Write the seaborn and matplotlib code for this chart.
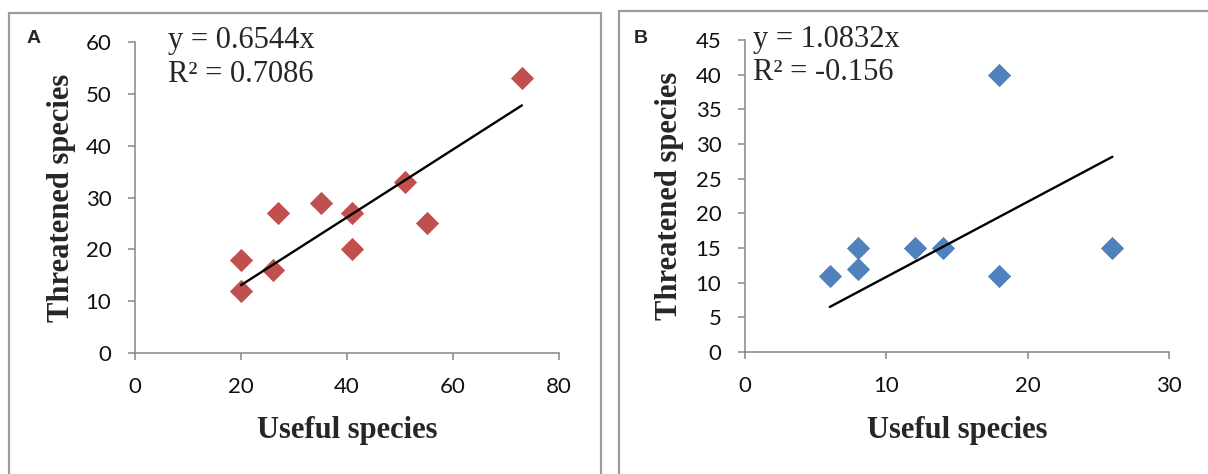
import matplotlib
matplotlib.use("Agg")
import matplotlib.pyplot as plt
from matplotlib.patches import Rectangle
import numpy as np
import pandas as pd
import seaborn as sns

# ---- data ----
useful_a = [20, 20, 26, 27, 35, 41, 41, 51, 55, 73]
threat_a = [12, 18, 16, 27, 29, 27, 20, 33, 25, 53]
slope_a = 0.6544
eq_a = ["y = 0.6544x", "R² = 0.7086"]

useful_b = [6, 8, 8, 12, 14, 18, 18, 26]
threat_b = [11, 15, 12, 15, 15, 40, 11, 15]
slope_b = 1.0832
eq_b = ["y = 1.0832x", "R² = -0.156"]

xticks_a = [0, 20, 40, 60, 80]
yticks_a = [0, 10, 20, 30, 40, 50, 60]
xticks_b = [0, 10, 20, 30]
yticks_b = [0, 5, 10, 15, 20, 25, 30, 35, 40, 45]

panel_letters = ["A", "B"]
xlabel = "Useful species"
ylabel = "Threatened species"

RED = "#C0504D"
BLUE = "#4F81BD"
AXIS_GRAY = "#868686"
FRAME_GRAY = "#9c9c9c"

sns.set_theme(style="white")
plt.rcParams["font.family"] = ["Lato", "DejaVu Sans"]

W, H = 1208, 474
fig = plt.figure(figsize=(W / 100, H / 100), dpi=100)
fig.patch.set_facecolor("white")


def fx(px):
    return px / W


def fy(py):
    return 1 - py / H


# panel frames
for (x0, x1, y0) in [(9, 601, 13), (619, 1212, 11)]:
    fig.add_artist(Rectangle((fx(x0), fy(H + 10)), fx(x1 - x0), (H + 10 - y0) / H,
                             transform=fig.transFigure, fill=False,
                             ec=FRAME_GRAY, lw=1.6, zorder=0))

# axes placement (pixel boxes)
boxes = [(135, 559, 42, 353), (745, 1169, 40, 352)]
datasets = [
    (useful_a, threat_a, slope_a, eq_a, RED, xticks_a, yticks_a),
    (useful_b, threat_b, slope_b, eq_b, BLUE, xticks_b, yticks_b),
]
eq_pos = [(168, 48, 82), (753, 47, 80)]
letter_pos = [(27, 43), (634, 43)]
ylabel_x = [62, 669]

for i, ((l, r, t, b), (xs, ys, slope, eq, col, xt, yt)) in enumerate(zip(boxes, datasets)):
    ax = fig.add_axes([fx(l), fy(b), fx(r - l), (b - t) / H])
    df = pd.DataFrame({"x": xs, "y": ys})
    sns.scatterplot(data=df, x="x", y="y", ax=ax, marker="D", s=140,
                    color=col, linewidth=0, zorder=3, legend=False)
    xfit = np.array([min(xs), max(xs)], dtype=float)
    sns.lineplot(x=xfit, y=slope * xfit, ax=ax, color="black", lw=1.7,
                 zorder=4, sort=False, estimator=None)

    ax.set_xlim(xt[0], xt[-1])
    ax.set_ylim(yt[0], yt[-1])
    ax.set_xticks(xt)
    ax.set_yticks(yt)
    ax.set_xticklabels([str(v) for v in xt])
    ax.set_yticklabels([str(v) for v in yt])
    for side in ["top", "right"]:
        ax.spines[side].set_visible(False)
    for side in ["left", "bottom"]:
        ax.spines[side].set_color(AXIS_GRAY)
        ax.spines[side].set_linewidth(1.1)
    ax.tick_params(axis="both", which="major", direction="out", length=5,
                   width=1.1, color=AXIS_GRAY, labelsize=16, pad=12,
                   labelcolor="#111111", bottom=True, left=True)
    ax.grid(False)
    ax.set_facecolor("none")

    ax.set_xlabel(xlabel, fontsize=22, fontweight="bold",
                  family=["Liberation Serif", "DejaVu Serif"])
    ax.xaxis.label.set_va("baseline")
    ax.xaxis.set_label_coords(0.5, (b - 438) / (b - t))
    ax.set_ylabel(ylabel, fontsize=22, fontweight="bold",
                  family=["Liberation Serif", "DejaVu Serif"])
    ax.yaxis.label.set_va("center")
    ax.yaxis.set_label_coords((ylabel_x[i] - l) / (r - l), 0.5)

    ex, b1, b2 = eq_pos[i]
    fig.text(fx(ex), fy(b1), eq[0], fontsize=22, va="baseline", ha="left",
             family=["Liberation Serif", "DejaVu Serif"])
    fig.text(fx(ex), fy(b2), eq[1], fontsize=22, va="baseline", ha="left",
             family=["Liberation Serif", "DejaVu Serif"])

    lx, ly = letter_pos[i]
    fig.text(fx(lx), fy(ly), panel_letters[i], fontsize=14, fontweight="bold",
             va="baseline", ha="left", family=["Liberation Sans", "DejaVu Sans"])

fig.savefig("out.png", dpi=100, facecolor="white")
